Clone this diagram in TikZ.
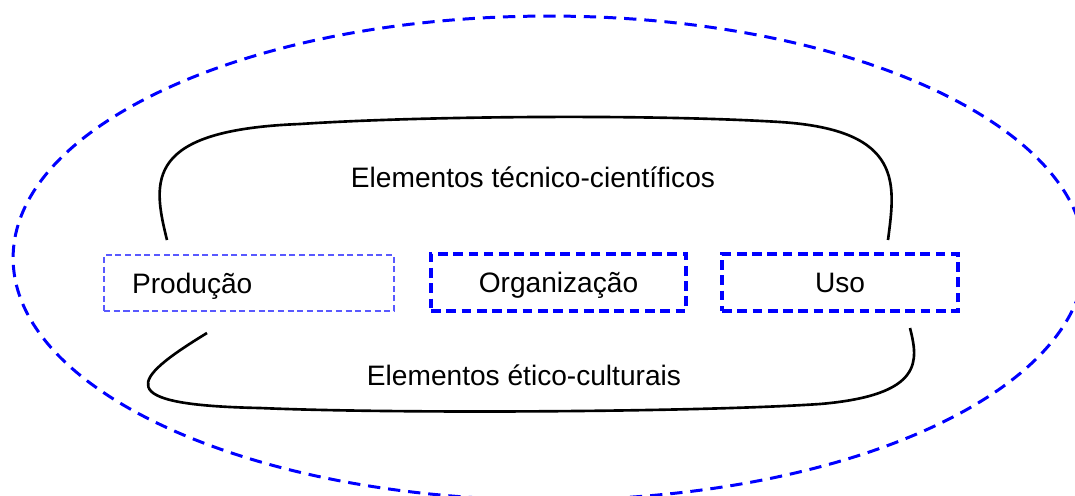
\documentclass[tikz,border=0pt]{standalone}
\usepackage{fontspec}
\setmainfont{Liberation Sans}

\begin{document}
\begin{tikzpicture}[x=0.02cm, y=-0.02cm,
		font=\fontsize{16}{19}\selectfont,
		box/.style={draw=blue, line width=2.1pt, dash pattern=on 5.5pt off 3.2pt, minimum height=1.14cm, inner sep=0pt, text height=2.55ex, text depth=0.35ex},
		thinbox/.style={draw=blue!65, line width=0.7pt, dash pattern=on 3.5pt off 2pt, minimum height=1.12cm, inner ysep=0pt, text height=2.55ex, text depth=0.35ex},
		brace/.style={line width=1.5pt}]
		\useasboundingbox (0,0) rectangle (1075,495);
		\clip (0,0) rectangle (1075,495);
		
		\draw[blue, line width=1.7pt, dash pattern=on 7pt off 4.5pt]
		(549,258) ellipse [x radius=10.72cm, y radius=4.84cm];
		
		\node (prod) [thinbox, inner xsep=0.56cm, text width=4.68cm, align=left] at (249,283) {Produção};
		\node (org) [box, minimum width=5.1cm] at (558.5,282.5) {Organização};
		\node (uso) [box, minimum width=4.72cm] at (840,282.5) {Uso};
		
		\node (tec) at (533,177) {Elementos técnico-científicos};
		\node (eti) at (524,375) {Elementos ético-culturais};
		
		\draw[brace] (167,240) .. controls (152,180) and (145,130) .. (300,124)
		.. controls (420,116) and (650,114) .. (780,122)
		.. controls (905,130) and (895,185) .. (888,240);
		
		\draw[brace] (207,333) .. controls (130,380) and (110,405) .. (260,408)
		.. controls (400,414) and (700,412) .. (820,404)
		.. controls (925,395) and (918,360) .. (910,328);
\end{tikzpicture}
\end{document}
